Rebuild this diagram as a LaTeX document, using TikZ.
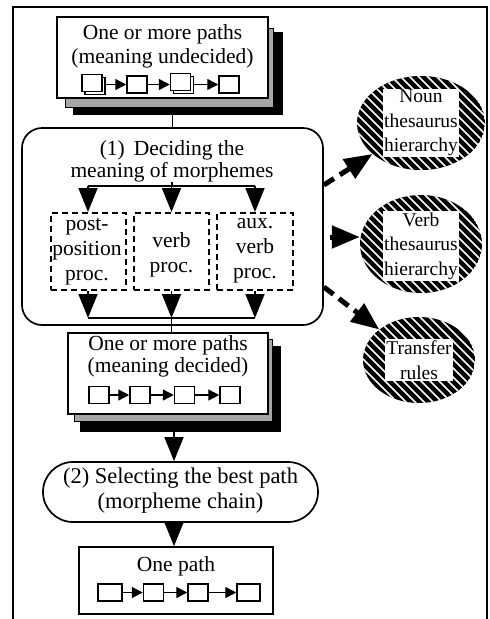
\documentclass[tikz,border=0pt]{standalone}
\usepackage{fontspec}
\setmainfont{Liberation Serif}
\usetikzlibrary{arrows.meta,shapes.geometric,calc}
\begin{document}
\begin{tikzpicture}[x=1pt,y=-1pt,
  every node/.style={font=\fontsize{21.5}{25}\selectfont, inner sep=0pt},
  box/.style={draw, line width=1.7pt, fill=white},
  sq/.style={draw, line width=1.5pt, fill=white, minimum width=20pt, minimum height=17pt},
  ln/.style={line width=1.7pt},
  bigarr/.style={-{Triangle[length=24pt,width=19pt]}},
  smallarr/.style={line width=1.4pt,-{Triangle[length=11pt,width=11pt]}},
  dbox/.style={draw, dash pattern=on 6pt off 4pt, line width=2pt},
  thickarr/.style={line width=5pt, -{Triangle[length=28pt,width=22pt]}},
  dasharr/.style={thickarr, dash pattern=on 12pt off 7pt},
  graylayer/.style={draw, line width=0.8pt, fill=black!35},
  blacklayer/.style={fill=black},
  ellbox/.style={ellipse, inner sep=0pt},
  elltext/.style={fill=white, inner sep=1.5pt, align=center, font=\fontsize{19.5}{24.5}\selectfont},
]
\useasboundingbox (0,0) rectangle (490,619);
% outer frame
\draw[line width=1.5pt] (13,619) -- (13,7) -- (487,7) -- (487,619);

% ---------- top box ----------
\node[blacklayer, minimum width=210pt, minimum height=83pt] (topblk) at (178,73.5) {};
\node[graylayer, minimum width=208pt, minimum height=79pt] (topgry) at (169,67.5) {};
\node[box, minimum width=211pt, minimum height=81pt] (top) at (162.5,57.5) {};
\node (t1) at (162.5,34) {One or more paths};
\node (t2) at (162.5,58) {(meaning undecided)};
\node[sq] (u1b) at (95,86) {};
\node[sq] (u1) at (92,83) {};
\node[sq] (u2) at (137,84.5) {};
\node[sq] (u3b) at (183.5,85) {};
\node[sq] (u3) at (180.5,82) {};
\node[sq] (u4) at (229,84.5) {};
\draw[smallarr] (u1b.east |- u2) -- (u2.west);
\draw[smallarr] (u2.east) -- (u3.west |- u2);
\draw[smallarr] (u3b.east |- u4) -- (u4.west);

% ---------- deciding box ----------
\node[draw, line width=1.7pt, rounded corners=20pt, minimum width=301pt, minimum height=197pt] (r1) at (172.5,226.5) {};
\draw[ln] (r1.north |- topblk.south) -- (r1.north);
\node (d1) at (172,150) {(1)\, Deciding the};
\node (d2) at (172,172) {meaning of morphemes};

\node[dbox, minimum width=75pt, minimum height=77pt] (b1) at (88,251.5) {};
\node[dbox, minimum width=75pt, minimum height=77pt] (b2) at (171.5,251.5) {};
\node[dbox, minimum width=76pt, minimum height=77pt] (b3) at (255,251.5) {};
\node[align=center] at (87,252) {post-\\position\\proc.};
\node[align=center] at (171.5,255) {verb\\proc.};
\node[align=center] at (255,251) {aux.\\verb\\proc.};

\coordinate (f1) at (172,186);
\draw[ln] (d2.south) -- (d2.south |- f1);
\draw[ln] (b1.north |- f1) -- (b3.north |- f1);
\draw[ln,bigarr] (b1.north |- f1) -- (b1.north);
\draw[ln,bigarr] (b2.north |- f1) -- (b2.north);
\draw[ln,bigarr] (b3.north |- f1) -- (b3.north);

\coordinate (j1) at (172,318);
\draw[ln,bigarr] (b1.south) -- (b1.south |- j1);
\draw[ln,bigarr] (b2.south) -- (b2.south |- j1);
\draw[ln,bigarr] (b3.south) -- (b3.south |- j1);
\draw[ln] (b1.south |- j1) -- (b3.south |- j1);

% ---------- second paths box ----------
\node[blacklayer, minimum width=201pt, minimum height=86pt] (midblk) at (180.5,389) {};
\node[graylayer, minimum width=198pt, minimum height=82pt] (midgry) at (173,380) {};
\node[box, minimum width=200pt, minimum height=81pt] (mid) at (168,373.5) {};
\draw[ln] (b2.south |- j1) -- (b2.south |- mid.north);
\node (m1) at (168,345) {One or more paths};
\node (m2) at (168,367) {(meaning decided)};
\node[sq] (v1) at (99,395) {};
\node[sq] (v2) at (140,395) {};
\node[sq] (v3) at (184.5,395) {};
\node[sq] (v4) at (230,395) {};
\draw[smallarr] (v1) -- (v2);
\draw[smallarr] (v2) -- (v3);
\draw[smallarr] (v3) -- (v4);

% ---------- selecting box ----------
\node[draw, line width=1.7pt, rounded corners=30pt, minimum width=275pt, minimum height=60pt] (r2) at (180.5,492) {};
\node[font=\fontsize{22.5}{25}\selectfont] (s1) at (180.5,478) {(2) Selecting the best path};
\node[font=\fontsize{22.5}{25}\selectfont] (s2) at (180.5,503) {(morpheme chain)};
\coordinate (a2) at (174,432);
\draw[ln,bigarr] (a2) -- (a2 |- r2.north);

% ---------- one path box ----------
\node[box, minimum width=194pt, minimum height=67pt] (last) at (176,580.5) {};
\draw[ln,bigarr] (a2 |- r2.south) -- (a2 |- last.north);
\node (o1) at (176,566) {One path};
\node[sq, minimum width=24pt] (w1) at (110,592.5) {};
\node[sq] (w2) at (153.5,592.5) {};
\node[sq] (w3) at (198,592.5) {};
\node[sq, minimum width=23pt] (w4) at (248.5,592.5) {};
\draw[smallarr] (w1) -- (w2);
\draw[smallarr] (w2) -- (w3);
\draw[smallarr] (w3) -- (w4);

% ---------- hatched ellipses ----------
\node[ellbox, minimum width=128pt, minimum height=94pt] (noun) at (421,123) {};
\node[ellbox, minimum width=122pt, minimum height=98pt] (verb) at (421,244) {};
\node[ellbox, minimum width=112pt, minimum height=86pt] (trans) at (419,360) {};
\foreach \n/\rx/\ry in {noun/64/47, verb/61/49, trans/56/43}{
  \begin{scope}
    \clip (\n.center) ellipse [x radius=\rx pt, y radius=\ry pt];
    \fill[black] (\n.center) ellipse [x radius=\rx pt, y radius=\ry pt];
    \foreach \i in {-162,-153,...,162}{
      \draw[white, line width=1.7pt] ($(\n.center)+(\i,-80)$) -- ++(160,160);
    }
  \end{scope}
}
\node[elltext] at (421,123) {Noun\\thesaurus\\hierarchy};
\node[elltext] at (421,246) {Verb\\thesaurus\\hierarchy};
\node[elltext] at (419,360) {Transfer\\rules};

% ---------- arrows to resources ----------
\draw[dasharr] ([yshift=41.5pt]r1.east) -- (noun);
\draw[thickarr] ([xshift=6pt,yshift=-10.5pt]r1.east) -- (verb.west |- 0,237);
\draw[dasharr] ([yshift=-60.5pt]r1.east) -- (trans);
\end{tikzpicture}
\end{document}
